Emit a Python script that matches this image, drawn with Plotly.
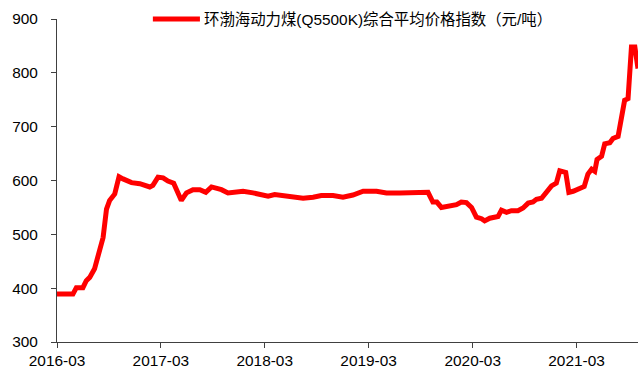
import plotly.graph_objects as go

# Bohai-Rim thermal coal (Q5500K) composite average price index, CNY/tonne
dates = [
    "2016-03-01", "2016-04-26", "2016-05-08", "2016-05-31", "2016-06-12", "2016-06-24",
    "2016-07-11", "2016-07-29", "2016-08-10", "2016-08-22", "2016-09-02", "2016-09-20",
    "2016-10-05", "2016-10-19", "2016-11-18", "2016-12-17", "2017-01-21", "2017-02-01",
    "2017-02-19", "2017-03-09", "2017-03-26", "2017-04-15", "2017-05-12", "2017-05-30",
    "2017-06-22", "2017-07-16", "2017-08-06", "2017-08-26", "2017-09-12", "2017-09-30",
    "2017-10-23", "2017-12-03", "2017-12-15", "2018-01-19", "2018-03-13", "2018-04-05",
    "2018-05-16", "2018-06-15", "2018-07-14", "2018-08-18", "2018-09-16", "2018-10-27",
    "2018-12-01", "2019-01-05", "2019-02-10", "2019-03-29", "2019-05-03", "2019-06-19",
    "2019-07-24", "2019-08-28", "2019-09-26", "2019-10-13", "2019-10-27", "2019-11-12",
    "2019-12-11", "2020-01-04", "2020-01-21", "2020-02-08", "2020-02-26", "2020-03-14",
    "2020-04-01", "2020-04-12", "2020-04-30", "2020-05-29", "2020-06-10", "2020-06-28",
    "2020-07-15", "2020-08-07", "2020-08-25", "2020-09-12", "2020-09-29", "2020-10-11",
    "2020-10-29", "2020-11-15", "2020-12-03", "2020-12-20", "2021-01-01", "2021-01-22",
    "2021-02-02", "2021-02-17", "2021-03-06", "2021-03-28", "2021-04-10", "2021-04-23",
    "2021-05-04", "2021-05-12", "2021-05-28", "2021-06-08", "2021-06-26", "2021-07-07",
    "2021-07-25", "2021-08-06", "2021-08-17", "2021-08-29", "2021-09-10", "2021-09-22",
    "2021-10-03",
]
prices = [
    389, 389, 401, 401, 414, 420,
    436, 470, 494, 547, 563, 575,
    607, 603, 596, 594, 588, 591,
    606, 605, 599, 595, 563, 577,
    583, 583, 578, 588, 586, 583,
    577, 578, 580, 577, 571, 574,
    571, 571, 567, 569, 572, 572,
    569, 573, 580, 580, 577, 577,
    577, 579, 578, 560, 560, 550,
    552, 555, 560, 559, 550, 532,
    529, 525, 530, 533, 545, 541,
    544, 544, 549, 558, 560, 565,
    567, 577, 590, 595, 618, 615,
    578, 580, 584, 589, 612, 621,
    617, 639, 645, 668, 670, 678,
    682, 724, 749, 752, 848, 848,
    808,
]

series_name = "环渤海动力煤(Q5500K)综合平均价格指数（元/吨）"
x_ticks = ["2016-03-01", "2017-03-01", "2018-03-01", "2019-03-01", "2020-03-01", "2021-03-01"]
x_tick_text = ["2016-03", "2017-03", "2018-03", "2019-03", "2020-03", "2021-03"]
y_ticks = [300, 400, 500, 600, 700, 800, 900]

line_color = "#FF0000"
font_family = "Arial, 'Liberation Sans', 'Noto Sans CJK SC', sans-serif"

fig = go.Figure(
    go.Scatter(
        x=dates, y=prices, mode="lines", name=series_name,
        line=dict(color=line_color, width=5),
        showlegend=False,
    )
)

axis_style = dict(
    showline=True, linecolor="#404040", linewidth=1,
    ticks="outside", ticklen=5, tickcolor="#404040", tickwidth=1,
    showgrid=False, zeroline=False, automargin=False,
    tickfont=dict(family=font_family, size=15.4, color="#000000"),
)

# Legend key drawn at the top of the plot: a short red stroke plus the series name
fig.add_shape(
    type="line", xref="paper", yref="paper",
    x0=0.165, x1=0.246, y0=1.0, y1=1.0,
    line=dict(color=line_color, width=5),
)
fig.add_annotation(
    text=series_name, xref="paper", yref="paper",
    x=0.249, y=1.0, xanchor="left", yanchor="middle",
    showarrow=False, font=dict(family=font_family, size=15.4, color="#000000"),
)

fig.update_layout(
    width=640, height=368,
    margin=dict(l=57, r=2, t=19, b=26),
    paper_bgcolor="white", plot_bgcolor="white",
    font=dict(family=font_family, size=15.4, color="#000000"),
    xaxis=dict(
        range=[dates[0], dates[-1]],
        tickvals=x_ticks, ticktext=x_tick_text,
        **axis_style,
    ),
    yaxis=dict(
        range=[300, 900], tickvals=y_ticks,
        ticklabelstandoff=10,
        **axis_style,
    ),
)

fig.write_html("out.html")
